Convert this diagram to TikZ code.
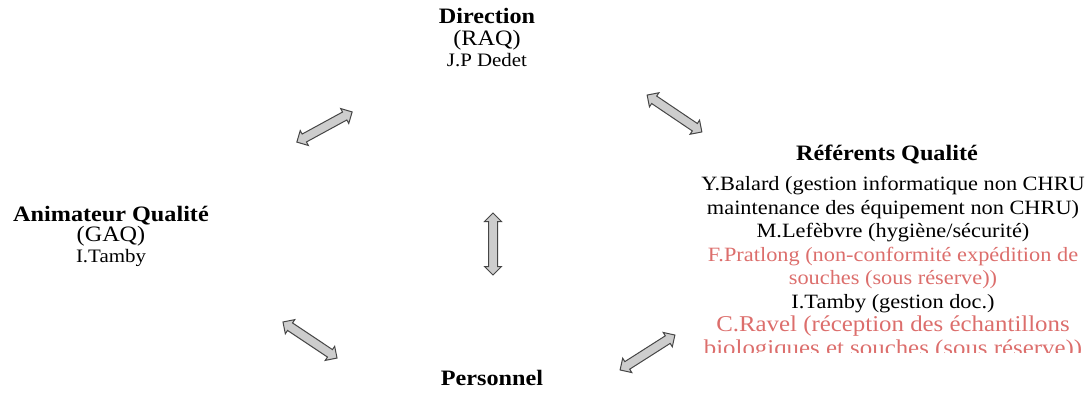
\documentclass[tikz,border=0pt]{standalone}
\usepackage{fontspec}
\setmainfont{Liberation Serif}[FakeStretch=1.1]
\usetikzlibrary{shapes.arrows}
\definecolor{pinkred}{RGB}{220,110,108}
\definecolor{arrfill}{RGB}{205,205,205}
\definecolor{arrdraw}{RGB}{70,70,70}
\begin{document}
\begin{tikzpicture}[x=1pt,y=-1pt,
  lbl/.style={align=center,inner sep=0pt,font=\fontsize{20.3}{23.5}\selectfont},
  dbl/.style={double arrow,draw=arrdraw,fill=arrfill,line width=1pt,
    inner xsep=0pt,inner ysep=4pt,double arrow head extend=4pt,
    minimum height=#1},
]
\useasboundingbox (0,0) rectangle (1090,392);
% Direction
\node[lbl,anchor=north] (dir) at (487,8)
  {\fontsize{22}{26}\selectfont\bfseries Direction\\[-1pt]
   \fontsize{22}{26}\selectfont (RAQ)\\[-3pt]
   \fontsize{19}{22}\selectfont J.P Dedet};
% Animateur
\node[lbl,anchor=north] (anim) at (111,206)
  {\fontsize{22}{26}\selectfont\bfseries Animateur Qualité\\[-3pt]
   \fontsize{22}{24}\selectfont (GAQ)\\[-3pt]
   \fontsize{19}{22}\selectfont I.Tamby};
% Referents
\node[lbl,anchor=north] (reft) at (887,145)
  {\fontsize{22}{26}\selectfont\bfseries Référents Qualité};
\begin{scope}
\clip (600,160) rectangle (1090,352);
\node[lbl,anchor=north] (refb) at (893,176)
  {Y.Balard (gestion informatique non CHRU\\
   maintenance des équipement non CHRU)\\
   M.Lefèbvre (hygiène/sécurité)\\
   \color{pinkred}F.Pratlong (non-conformité expédition de\\
   \color{pinkred}souches (sous réserve))\\
   I.Tamby (gestion doc.)\\
   \fontsize{22.6}{26}\selectfont\color{pinkred}C.Ravel (réception des échantillons\\
   \fontsize{22.6}{26}\selectfont\color{pinkred}biologiques et souches (sous réserve))};
\end{scope}
% Personnel
\node[lbl,anchor=north] (pers) at (492,370)
  {\fontsize{22}{26}\selectfont\bfseries Personnel};
% arrows
\node[dbl=63pt,rotate=28.6] (a1) at (324.5,127) {};
\node[dbl=66pt,rotate=-34] (a2) at (674.5,113.5) {};
\node[dbl=62pt,rotate=90] (a3) at (493,244) {};
\node[dbl=65pt,rotate=-33.7] (a4) at (310,340) {};
\node[dbl=65pt,rotate=32.5] (a5) at (647.5,352.5) {};
\end{tikzpicture}
\end{document}
